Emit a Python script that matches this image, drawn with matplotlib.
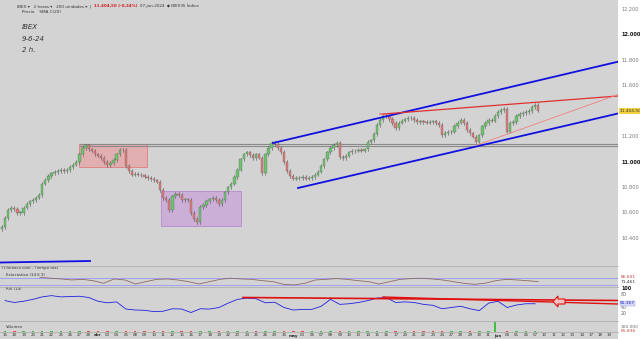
import matplotlib
matplotlib.use("Agg")
import matplotlib.pyplot as plt
from matplotlib.patches import Rectangle, Circle, Polygon

# ---- data ----
# 2h bars, three per trading day, closes in index points
closes = [
    [10490, 10560, 10620], [10640, 10630, 10600], [10600, 10640, 10670],
    [10690, 10700, 10720], [10740, 10830, 10860], [10890, 10910, 10920],
    [10930, 10940, 10930], [10937, 10960, 10980], [11000, 11060, 11110],
    [11130, 11100, 11090], [11060, 11050, 11030], [11000, 10976, 10990],
    [11016, 11060, 11094], [11094, 10970, 10930], [10900, 10905, 10900],
    [10895, 10885, 10875], [10865, 10855, 10845], [10780, 10717, 10700],
    [10620, 10730, 10750], [10740, 10700, 10705], [10700, 10600, 10550],
    [10527, 10646, 10660], [10690, 10705, 10717], [10700, 10670, 10700],
    [10760, 10800, 10830], [10880, 10940, 11020], [11060, 11075, 11055],
    [11031, 11060, 11035], [10913, 11060, 11110], [11150, 11140, 11110],
    [11080, 11000, 10930], [10890, 10870, 10875], [10874, 10880, 10870],
    [10875, 10880, 10900], [10925, 10970, 11020], [11075, 11110, 11134],
    [11150, 11039, 11031], [11050, 11075, 11085], [11090, 11094, 11090],
    [11100, 11157, 11170], [11220, 11290, 11330], [11360, 11362, 11340],
    [11307, 11268, 11310], [11325, 11335, 11345], [11346, 11330, 11315],
    [11320, 11315, 11310], [11315, 11320, 11305], [11291, 11213, 11228],
    [11236, 11240, 11285], [11310, 11331, 11307], [11250, 11225, 11200],
    [11160, 11210, 11280], [11305, 11330, 11325], [11360, 11394, 11409],
    [11420, 11240, 11307], [11315, 11360, 11378], [11386, 11392, 11400],
    [11433, 11449, 11404.5],
]

day_labels = ["15", "18", "19", "20", "21", "22", "25", "26", "27", "28",
              "abr", "03", "04", "05", "08", "09", "10", "11", "12", "15",
              "16", "17", "18", "19", "22", "23", "24", "25", "26", "29",
              "30", "may", "03", "06", "07", "08", "09", "10", "13", "14",
              "15", "16", "17", "20", "21", "22", "23", "24", "27", "28",
              "29", "30", "31", "jun", "04", "05", "06", "07", "10", "11",
              "12", "13", "14", "17", "18", "19"]

rsi = [62, 56, 60, 66, 74, 78, 74, 75, 76, 72, 60, 55, 58, 35, 32, 31, 27,
       28, 36, 35, 24, 36, 35, 40, 54, 66, 70, 68, 55, 57, 40, 32, 34, 34,
       44, 66, 50, 52, 56, 62, 70, 72, 56, 58, 56, 50, 47, 36, 40, 44, 36,
       30, 54, 60, 40, 48, 52, 52]

stoch = [83, 75, 69, 61, 66, 55, 34, 69, 61, 28, 47, 66, 69, 61, 47, 28,
         47, 66, 75, 69, 66, 55, 47, 25, 20, 34, 61, 66, 72, 66, 55, 47,
         28, 47, 66, 72, 75, 69, 61, 47, 34, 25, 34, 55, 66, 61, 55, 47]

volume = [45000, 40000, 38000, 42000, 50000, 44000, 39000, 41000, 47000,
          52000, 46000, 43000, 40000, 55000, 48000, 42000, 44000, 58000,
          52000, 46000, 60000, 50000, 42000, 40000, 45000, 48000, 44000,
          41000, 56000, 47000, 52000, 43000, 40000, 38000, 42000, 47000,
          50000, 44000, 41000, 43000, 52000, 46000, 48000, 42000, 40000,
          39000, 41000, 50000, 45000, 44000, 48000, 53000, 46000, 620000,
          55000, 47000, 44000, 65836]

price_ticks = [10400, 10600, 10800, 11000, 11200, 11600, 11800, 12000, 12200]

W, H = 640, 339
BG = "#d3d3d3"
BAR = 3.1           # px per bar
X0 = 1.9            # px of first bar
XL = (-X0 / BAR, (618 - X0) / BAR)

fig = plt.figure(figsize=(6.4, 3.39), dpi=100)
fig.patch.set_facecolor("white")


def px_axes(x0, y0, x1, y1):
    ax = fig.add_axes([x0 / W, 1 - y1 / H, (x1 - x0) / W, (y1 - y0) / H])
    ax.set_facecolor(BG)
    ax.set_xlim(*XL)
    ax.set_xticks([])
    ax.set_yticks([])
    for s in ax.spines.values():
        s.set_visible(False)
    return ax


def bar_at(x):
    return (x - X0) / BAR


# ---- main price panel ----
ax = px_axes(0, 0, 618, 266)
P_TOP, P_BOT = 12275.6, 10181.0
ax.set_ylim(P_BOT, P_TOP)


def price_at(y):
    return P_TOP + y * (P_BOT - P_TOP) / 266


flat = [c for day in closes for c in day]
prev = flat[0] - 20
for i, c in enumerate(flat):
    o = prev
    col = "#6cc46c" if c >= o else "#e07a7a"
    lo, hi = min(o, c), max(o, c)
    ax.plot([i, i], [lo - 14, hi + 14], color="#555555", lw=0.4, zorder=3)
    ax.add_patch(Rectangle((i - 0.38, lo), 0.76, max(hi - lo, 3),
                           facecolor=col, edgecolor="#555555", lw=0.2,
                           zorder=4))
    prev = c

# boxes
ax.add_patch(Rectangle((bar_at(79), price_at(167)), bar_at(147) - bar_at(79),
                       price_at(144) - price_at(167), facecolor="#e8a0a0",
                       edgecolor="#e06060", lw=0.6, alpha=0.7, zorder=2))
ax.add_patch(Rectangle((bar_at(161), price_at(226)), bar_at(241) - bar_at(161),
                       price_at(191) - price_at(226), facecolor="#c8a0d8",
                       edgecolor="#b070d0", lw=0.6, alpha=0.7, zorder=2))

# horizontal resistance band
for y in (143.5, 146):
    ax.plot([bar_at(80), XL[1]], [price_at(y)] * 2, color="#8a8a8a", lw=0.8,
            zorder=2)

# channel
ax.plot([bar_at(273), XL[1]], [price_at(143), price_at(61.7)], color="#1010e0",
        lw=1.3, zorder=5)
ax.plot([bar_at(298), XL[1]], [price_at(188), price_at(113.5)], color="#1010e0",
        lw=1.3, zorder=5)
ax.plot([bar_at(0), bar_at(90)], [price_at(262.5), price_at(261)],
        color="#1010e0", lw=1.3, zorder=5)

# red lines
ax.plot([bar_at(383), XL[1]], [price_at(114), price_at(96)], color="#e03030",
        lw=0.9, zorder=5)
ax.plot([bar_at(477), XL[1]], [price_at(145), price_at(94.5)], color="#f08080",
        lw=0.6, zorder=5)
ax.add_patch(Circle((bar_at(383), price_at(114)), radius=1.2,
                    transform=ax.transData, facecolor="#f0a0a0",
                    edgecolor="#e06060", lw=0.6, alpha=0.8, zorder=6))

for y, s in ((27, "IBEX"), (39, "9-6-24"), (50, "2 h.")):
    ax.text(22 / 618, 1 - y / 266, s, transform=ax.transAxes, fontsize=5,
            style="italic", color="#333333", va="center")

# toolbar
fig.text(17 / W, 1 - 6 / H, "IBEX ▾   2 horas ▾   200 unidades ▾  |", fontsize=3,
         color="#333333", va="center")
fig.text(94 / W, 1 - 6 / H, "11.404,50 (-0,34%)", fontsize=2.9, color="#d02020",
         weight="bold", va="center")
fig.text(140 / W, 1 - 6 / H, "07-jun-2024  ◆ IBEX35 Índice", fontsize=2.9,
         color="#333333", va="center")
fig.text(22 / W, 1 - 12 / H, "Precio    SMA C(20)", fontsize=3, color="#333333",
         va="center")

# price axis labels
for p in price_ticks:
    bold = p in (11000, 12000)
    fig.text(621 / W, 1 - (162 - (p - 11000) * 0.127) / H,
             "{:,}".format(p).replace(",", "."), fontsize=3.6,
             color="#111111" if bold else "#777777",
             weight="bold" if bold else "normal", va="center")
fig.text(619.5 / W, 1 - 111 / H, "11.404,50", fontsize=3.1, color="#333333",
         va="center", bbox=dict(boxstyle="square,pad=0.12", fc="#f0d040",
                                ec="none"))

# ---- stochastic ----
axs = px_axes(0, 266, 618, 287)
axs.set_ylim(3.3, 175)
for lvl in (80, 20):
    axs.axhline(lvl, color="#a0a0f0", lw=0.7)
axs.plot([bar_at(40) + i * (bar_at(538) - bar_at(40)) / (len(stoch) - 1)
          for i in range(len(stoch))], stoch, color="#8a6a6a", lw=0.6)
axs.text(2 / 618, 0.92, "IT-finance.com - Tiempo real", transform=axs.transAxes,
         fontsize=2.8, color="#333333", va="center")
axs.text(6 / 618, 0.55, "Estocástico (14 6 3)", transform=axs.transAxes,
         fontsize=2.8, color="#333333", va="center")
fig.text(621 / W, 1 - 277 / H, "86,601", fontsize=3.2, color="#c04040",
         va="center")
fig.text(621 / W, 1 - 282 / H, "71,461", fontsize=3.2, color="#333333",
         va="center")

# ---- RSI ----
axr = px_axes(0, 287, 618, 321)
axr.set_ylim((320 - 321) / 0.3125, (320 - 287) / 0.3125)
axr.plot([3 * d + 1 for d in range(len(rsi))], rsi, color="#2020e0", lw=0.6)
axr.plot([bar_at(243), XL[1]], [(320 - 297.5) / 0.3125, (320 - 300.5) / 0.3125],
         color="#e01010", lw=1.2)
axr.plot([bar_at(383), XL[1]], [(320 - 297) / 0.3125, (320 - 304) / 0.3125],
         color="#e01010", lw=1.0)
arrow = [(553, 301.5), (558, 296), (558, 299), (565, 299), (565, 304),
         (558, 304), (558, 307)]
axr.add_patch(Polygon([(bar_at(x), (320 - y) / 0.3125) for x, y in arrow],
                      closed=True, facecolor="#f4c0c0", edgecolor="#e01010",
                      lw=0.8, zorder=5))
axr.text(6 / 618, 0.93, "RSI (14)", transform=axr.transAxes, fontsize=2.8,
         color="#333333", va="center")
for v in (100, 80, 40, 20):
    fig.text(621 / W, 1 - (320 - v * 0.3125) / H, str(v), fontsize=3.4,
             color="#111111" if v == 100 else "#666666", va="center",
             weight="bold" if v == 100 else "normal")
fig.text(620 / W, 1 - 303.5 / H, "55,367", fontsize=3.1, color="#2020c0",
         va="center", bbox=dict(boxstyle="square,pad=0.1", fc="#d8d8f8",
                                ec="#a0a0e0", lw=0.3))

# ---- volume ----
axv = px_axes(0, 321, 618, 332)
axv.set_ylim(0, 680000)
for d, v in enumerate(volume):
    up = closes[d][-1] >= (closes[d - 1][-1] if d else closes[d][0])
    axv.bar(3 * d + (0 if v > 300000 else 1), v, width=0.8,
            color="#40c040" if up else "#e05050")
axv.text(6 / 618, 0.5, "Volumen", transform=axv.transAxes, fontsize=2.8,
         color="#333333", va="center")
fig.text(621 / W, 1 - 327 / H, "300.000", fontsize=3.2, color="#666666",
         va="center")
fig.text(621 / W, 1 - 331 / H, "65.836", fontsize=3.2, color="#c04040",
         va="center")

# date axis
axd = px_axes(0, 332, 618, 339)
for d, lab in enumerate(day_labels):
    axd.text(3 * d + 1, 0.5, lab, fontsize=2.9, ha="center", va="center",
             color="#333333", transform=axd.get_xaxis_transform(),
             weight="bold" if lab in ("abr", "may", "jun") else "normal")

for y in (266, 287, 321, 332):
    fig.add_artist(plt.Line2D([0, 618 / W], [1 - y / H] * 2, color="#a8a8a8",
                              lw=0.5))

fig.savefig("out.png", dpi=100)
